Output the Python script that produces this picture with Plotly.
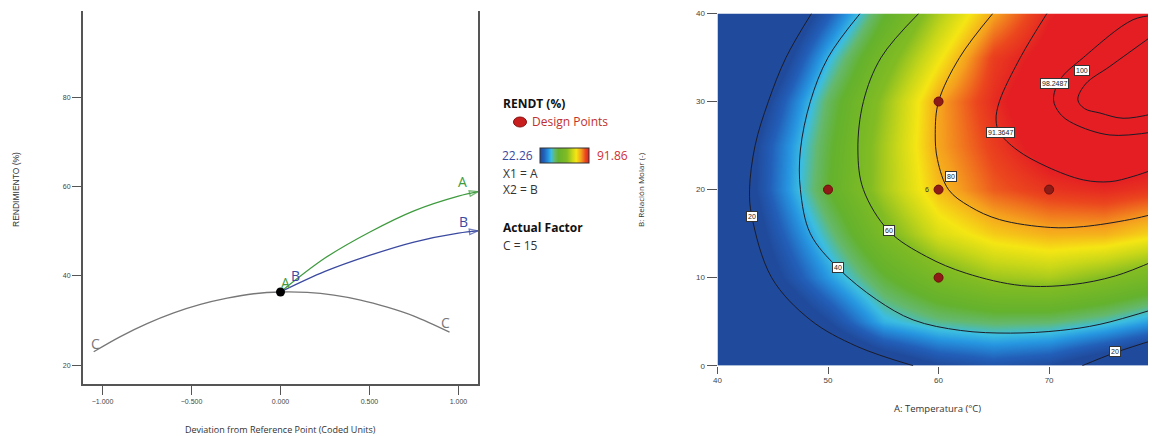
import plotly.graph_objects as go

# the page body adds an 8 px margin, so the figure is drawn 8 px smaller and offset
OFF = 8
W, H = 1156 - OFF, 436 - OFF

# ---------------- Left: perturbation plot data ----------------
dev_C = [-1.05, -0.9, -0.75, -0.6, -0.45, -0.3, -0.15, 0.0, 0.15, 0.3, 0.45, 0.6, 0.75, 0.95]
rend_C = [23.0, 26.4, 29.3, 31.7, 33.6, 35.0, 36.0, 36.4, 36.3, 35.7, 34.6, 33.0, 31.0, 27.4]
dev_A = [0.0, 0.25, 0.5, 0.75, 1.0, 1.11]
rend_A = [36.4, 44.0, 49.8, 54.6, 57.9, 58.9]
dev_B = [0.0, 0.25, 0.5, 0.75, 1.0, 1.11]
rend_B = [36.4, 41.0, 44.6, 47.6, 49.6, 50.1]
ref_dev = [0.0]
ref_rend = [36.4]
dev_ticks = [-1.0, -0.5, 0.0, 0.5, 1.0]
rend_ticks = [20, 40, 60, 80]

# ---------------- Right: contour plot data ----------------
temp_A = [40, 45, 50, 55, 60, 65, 70, 75, 80]
ratio_B = [0, 5, 10, 15, 20, 25, 30, 35, 40]
rendt = [
    [1, 4, 8, 15, 22, 25, 22.5, 15, 8],
    [3, 11, 22.5, 37, 42, 44, 43.5, 40, 34],
    [4, 20, 34.5, 47.5, 57, 63.5, 65, 60.5, 55],
    [6, 24.7, 41.6, 58, 70.5, 76.5, 79.3, 79.2, 75],
    [8, 28.9, 48.4, 64.5, 78, 85.5, 89, 90.5, 88.5],
    [8, 28.2, 47.1, 64.5, 80.3, 88.1, 94.9, 97.2, 96.5],
    [5, 23.2, 44.6, 62.5, 80.3, 90.1, 97.3, 101, 102],
    [3, 15, 37.4, 56.3, 72.9, 88, 94.2, 99, 101],
    [2, 8, 27, 47.7, 65.4, 80.2, 91.1, 95.6, 98.8],
]
# contour lines (A, B pairs along each level)
c20a_A = [48.5, 46.2, 44.6, 43.4, 42.9, 43.1, 44.9, 48.4, 52.6, 57.7]
c20a_B = [40, 35, 30, 25, 20, 17, 10, 5.2, 2.2, 0]
c20b_A = [73.0, 76.0, 79.7]
c20b_B = [0, 1.5, 3.0]
c40_A = [52.9, 50.0, 48.4, 47.5, 47.5, 48.4, 50.9, 54.4, 57.7, 62.0, 66.5, 71.0, 74.6, 79.7]
c40_B = [40, 35, 30, 24.5, 20, 15, 11.1, 7.5, 5.2, 4.0, 3.7, 4.0, 4.7, 6.5]
c60_A = [58.2, 54.8, 53.2, 52.7, 53.2, 55.5, 58.9, 62.5, 67.5, 72.0, 76.0, 79.7]
c60_B = [40, 35, 30, 24.5, 20, 15.3, 12.4, 10.5, 9.1, 9.2, 10.2, 12.0]
c80_A = [64.9, 61.9, 60.0, 59.7, 59.9, 60.9, 62.8, 65.5, 70.1, 73.1, 77.3, 79.7]
c80_B = [40, 35, 30, 26.4, 23.4, 20, 18.1, 16.6, 15.7, 15.8, 16.6, 17.3]
c91_A = [69.8, 67.4, 65.5, 65.2, 65.5, 67.1, 69.8, 73.1, 75.5, 77.6, 79.7]
c91_B = [40, 35, 30, 27.9, 26.5, 24.5, 22.6, 21.1, 20.9, 21.5, 22.4]
c98_A = [79.7, 77.6, 73.1, 71.0, 70.4, 71.0, 72.2, 75.5, 79.7]
c98_B = [39.8, 39.3, 35.0, 32.5, 30.2, 28.6, 27.5, 26.2, 26.6]
c100_A = [79.7, 75.5, 73.3, 72.6, 73.2, 74.6, 76.7, 79.7]
c100_B = [37.8, 34.0, 32.0, 30.2, 29.2, 28.7, 28.1, 28.7]
design_A = [60, 50, 60, 70, 60]
design_B = [30, 20, 20, 20, 10]
label_text = ["20", "40", "60", "80", "91.3647", "98.2487", "100", "20"]
label_A = [43.1, 50.9, 55.5, 61.1, 65.6, 70.5, 73.0, 76.0]
label_B = [17.0, 11.1, 15.3, 21.5, 26.5, 32.0, 33.5, 1.6]
temp_ticks = [40, 50, 60, 70, 80]
ratio_ticks = [0, 10, 20, 30, 40]
cmin, cmax = 22.26, 91.86

GREEN = "#3f9b3f"
BLUE = "#3b4aa0"
GRAY = "#777777"
TICKF = dict(family="Liberation Sans, Arial, sans-serif", size=7, color="#444")
TXT = "Open Sans, Noto Sans, sans-serif"


def px(x):
    return (x - OFF) / W


def py(y):
    return 1 - (y - OFF) / H


fig = go.Figure()

colorscale = [
    [0.0, "rgb(32,74,155)"], [0.08, "rgb(34,95,185)"], [0.17, "rgb(38,150,225)"],
    [0.23, "rgb(60,190,225)"], [0.30, "rgb(100,185,110)"], [0.38, "rgb(100,178,45)"],
    [0.55, "rgb(130,188,35)"], [0.66, "rgb(200,215,25)"], [0.74, "rgb(245,230,20)"],
    [0.84, "rgb(245,160,30)"], [0.93, "rgb(235,70,30)"], [1.0, "rgb(228,30,35)"],
]
fig.add_trace(go.Heatmap(x=temp_A, y=ratio_B, z=rendt, coloraxis="coloraxis", zsmooth="best",
                         xaxis="x2", yaxis="y2", hoverinfo="skip"))
for xs, ys in [(c20a_A, c20a_B), (c20b_A, c20b_B), (c40_A, c40_B), (c60_A, c60_B),
               (c80_A, c80_B), (c91_A, c91_B), (c98_A, c98_B), (c100_A, c100_B)]:
    fig.add_trace(go.Scatter(x=xs, y=ys, mode="lines",
                             line=dict(color="#1c1c28", width=1, shape="spline", smoothing=1),
                             xaxis="x2", yaxis="y2", showlegend=False, hoverinfo="skip"))
fig.add_trace(go.Scatter(x=design_A, y=design_B, mode="markers",
                         marker=dict(color="#8e1b16", size=9, line=dict(color="#6a0f0c", width=1)),
                         xaxis="x2", yaxis="y2", showlegend=False, hoverinfo="skip"))

# perturbation curves
fig.add_trace(go.Scatter(x=dev_C, y=rend_C, mode="lines",
                         line=dict(color=GRAY, width=1.3, shape="spline"), showlegend=False, hoverinfo="skip"))
for xs, ys, col in [(dev_A, rend_A, GREEN), (dev_B, rend_B, BLUE)]:
    sizes = [0] * (len(xs) - 1) + [9]
    fig.add_trace(go.Scatter(x=xs, y=ys, mode="lines+markers",
                             line=dict(color=col, width=1.3, shape="spline"),
                             marker=dict(symbol="arrow-open", size=sizes, angleref="previous",
                                         color=col, line=dict(color=col, width=1.3)),
                             showlegend=False, hoverinfo="skip"))
fig.add_trace(go.Scatter(x=ref_dev, y=ref_rend, mode="markers",
                         marker=dict(color="black", size=9), showlegend=False, hoverinfo="skip"))

ann = []
ann += [
    dict(x=dev_A[-1], y=rend_A[-1], text="A", xshift=-16, yshift=10, font=dict(color=GREEN, size=14, family=TXT)),
    dict(x=dev_B[-1], y=rend_B[-1], text="B", xshift=-15, yshift=9, font=dict(color=BLUE, size=14, family=TXT)),
    dict(x=dev_A[0], y=rend_A[0], text="A", xshift=5, yshift=9, font=dict(color=GREEN, size=14, family=TXT)),
    dict(x=dev_B[0], y=rend_B[0], text="B", xshift=15, yshift=16, font=dict(color=BLUE, size=14, family=TXT)),
    dict(x=dev_C[0], y=rend_C[0], text="C", xshift=2, yshift=8, font=dict(color=GRAY, size=14, family=TXT)),
    dict(x=dev_C[-1], y=rend_C[-1], text="C", xshift=-4, yshift=10, font=dict(color=GRAY, size=14, family=TXT)),
]
for a in ann:
    a.update(xref="x", yref="y", showarrow=False)

for t, a, b in zip(label_text, label_A, label_B):
    ann.append(dict(x=a, y=b, xref="x2", yref="y2", text=t, showarrow=False,
                    bgcolor="white", bordercolor="#333", borderwidth=1, borderpad=1,
                    font=dict(size=7, color="#222", family="Liberation Sans, Arial")))
ann.append(dict(x=design_A[2], y=design_B[2], xref="x2", yref="y2", text="6", showarrow=False,
                xshift=-12, font=dict(size=7, color="#333", family="Liberation Sans, Arial")))


def ptext(x, y, text, size=12, color="#222", anchor="left", angle=0, family=TXT):
    ann.append(dict(x=px(x), y=py(y), xref="paper", yref="paper", text=text, showarrow=False,
                    xanchor=anchor, yanchor="middle", textangle=angle,
                    font=dict(size=size, color=color, family=family)))


ptext(16, 190, "RENDIMIENTO (%)", size=8.5, color="#333", anchor="center", angle=-90,
      family="Liberation Sans, Arial")
ptext(280, 429, "Deviation from Reference Point (Coded Units)", size=9, color="#333", anchor="center")
ptext(937, 408, "A: Temperatura (°C)", size=9.5, color="#333", anchor="center")
ptext(640, 190, "B: Relación Molar (-)", size=8, color="#333", anchor="center", angle=-90)

ptext(501, 103, "<b>RENDT (%)</b>", size=12, color="#111")
ptext(530, 122, "Design Points", size=12, color="#c0302c")
ptext(500, 155, "22.26", size=12, color="#3a48a0")
ptext(595, 155, "91.86", size=12, color="#d03030")
ptext(501, 173, "X1 = A", size=12, color="#333")
ptext(501, 189, "X2 = B", size=12, color="#333")
ptext(501, 227, "<b>Actual Factor</b>", size=12, color="#111")
ptext(501, 245, "C = 15", size=12, color="#333")

shapes = [dict(type="circle", xref="paper", yref="paper",
               x0=px(513.5), x1=px(526.5), y0=py(127), y1=py(117),
               fillcolor="#c81e1e", line=dict(color="#8a1010", width=1))]

fig.update_layout(
    width=W, height=H, margin=dict(l=0, r=0, t=0, b=0, autoexpand=False),
    paper_bgcolor="white", plot_bgcolor="white", showlegend=False,
    annotations=ann, shapes=shapes,
    coloraxis=dict(cmin=cmin, cmax=cmax, colorscale=colorscale,
                   colorbar=dict(orientation="h", x=px(564), xanchor="center", y=py(156), yanchor="middle",
                                 len=49, lenmode="pixels", thickness=15, xpad=0, ypad=0,
                                 outlinewidth=1, outlinecolor="#333", showticklabels=False, ticks="")),
    xaxis=dict(domain=[px(83), px(478)], range=[-1.11, 1.11], tickvals=dev_ticks, tickformat=".3f",
               ticks="outside", ticklen=9, tickwidth=1.3, tickcolor="#555", showline=True,
               linecolor="#555", linewidth=2, showgrid=False, zeroline=False, tickfont=TICKF,
               automargin=False),
    yaxis=dict(domain=[py(384.3), py(11)], range=[15.7, 99.4], tickvals=rend_ticks,
               ticks="outside", ticklen=9, tickwidth=1.3, tickcolor="#555", showline=True, mirror=True,
               linecolor="#555", linewidth=2, showgrid=False, zeroline=False, tickfont=TICKF,
               automargin=False),
    xaxis2=dict(domain=[px(717.5), 1.0], range=[40, 79.67], tickvals=temp_ticks, anchor="y2",
                ticks="outside", ticklen=7, tickcolor="#555", showline=False, showgrid=False,
                zeroline=False, tickfont=dict(family="Liberation Sans, Arial", size=8, color="#444"),
                automargin=False),
    yaxis2=dict(domain=[py(365.7), py(13.5)], range=[0, 40], tickvals=ratio_ticks, anchor="x2",
                ticks="outside", ticklen=10, tickcolor="#555", showline=False, showgrid=False,
                zeroline=False, tickfont=dict(family="Liberation Sans, Arial", size=8, color="#444"),
                automargin=False),
)

fig.write_html("out.html")
